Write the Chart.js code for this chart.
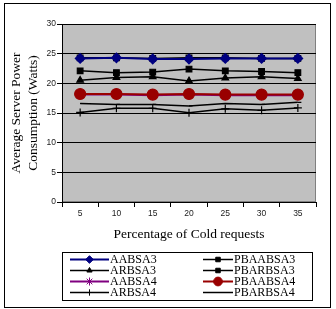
<!DOCTYPE html>
<html>
<head>
<meta charset="utf-8">
<script src="https://cdn.jsdelivr.net/npm/chart.js@4.4.1/dist/chart.umd.min.js"></script>
<style>
  html, body { margin: 0; padding: 0; background: #fff; }
  #wrap { width: 336px; height: 309px; }
</style>
</head>
<body>
<div id="wrap"><canvas id="c" width="336" height="309"></canvas></div>
<script>
// values
const coldPct = ['5', '10', '15', '20', '25', '30', '35'];
const aabsa3 = [24.2, 24.3, 24.1, 24.1, 24.2, 24.2, 24.2];
const pbaabsa3 = [24.3, 24.3, 24.2, 24.3, 24.3, 24.2, 24.2];
const arbsa3 = [20.5, 21.0, 21.1, 20.4, 20.9, 21.1, 20.8];
const pbarbsa3 = [22.1, 21.8, 21.9, 22.4, 22.1, 22.0, 21.8];
const aabsa4 = [18.1, 18.1, 18.0, 18.1, 18.0, 18.0, 18.0];
const pbaabsa4 = [18.2, 18.2, 18.1, 18.2, 18.1, 18.1, 18.1];
const arbsa4 = [15.1, 15.8, 15.8, 15.05, 15.7, 15.45, 15.85];
const pbarbsa4 = [16.6, 16.45, 16.45, 16.2, 16.6, 16.45, 16.8];
const yTicks = [0, 5, 10, 15, 20, 25, 30];

const legendOrder = ['AABSA3', 'PBAABSA3', 'ARBSA3', 'PBARBSA3', 'AABSA4', 'PBAABSA4', 'ARBSA4', 'PBARBSA4'];

function series(label, data, color, width, style, radius, order) {
  return {
    label: label, data: data,
    borderColor: color, backgroundColor: color,
    borderWidth: width, tension: 0,
    pointStyle: style, pointRadius: radius, pointHoverRadius: radius,
    pointBorderWidth: 1.2, pointBorderColor: color, pointBackgroundColor: color,
    order: order
  };
}

const datasets = [
  series('PBAABSA3', pbaabsa3, '#000000', 1.5, 'rect', 4, 1),
  series('AABSA3', aabsa3, '#000080', 2, 'rectRot', 4.8, 0),
  series('ARBSA3', arbsa3, '#000000', 1.5, 'triangle', 3.8, 2),
  series('PBARBSA3', pbarbsa3, '#000000', 1.5, 'rect', 4, 3),
  series('AABSA4', aabsa4, '#800080', 2, 'star', 5, 5),
  series('PBAABSA4', pbaabsa4, '#990000', 2, 'circle', 5.5, 4),
  series('ARBSA4', arbsa4, '#000000', 1.5, 'cross', 4, 6),
  series('PBARBSA4', pbarbsa4, '#000000', 1.5, 'dash', 3.5, 7)
];

const frame = {
  id: 'frame',
  beforeDraw(chart) {
    const ctx = chart.ctx, a = chart.chartArea;
    ctx.save();
    ctx.fillStyle = '#c0c0c0';
    ctx.fillRect(a.left, a.top, a.right - a.left, a.bottom - a.top);
    ctx.strokeStyle = '#808080';
    ctx.lineWidth = 1;
    ctx.strokeRect(a.left + 0.5, a.top + 0.5, a.right - a.left - 1, a.bottom - a.top - 1);
    ctx.strokeStyle = '#000';
    ctx.strokeRect(4.5, 3.5, 326, 304);
    ctx.restore();
  },
  afterDraw(chart) {
    const ctx = chart.ctx;
    ctx.save();
    ctx.strokeStyle = '#000';
    ctx.lineWidth = 1;
    ctx.strokeRect(62.5, 252.5, 250, 48);
    ctx.font = '12px "Liberation Serif", "Times New Roman", serif';
    ctx.textBaseline = 'middle';
    ctx.textAlign = 'left';
    legendOrder.forEach((name, i) => {
      const ds = chart.data.datasets.find(d => d.label === name);
      const col = i % 2, row = Math.floor(i / 2);
      const x0 = col ? 203 : 70, x1 = col ? 233 : 109;
      const y = 259.5 + row * 11;
      ctx.strokeStyle = ds.borderColor;
      ctx.fillStyle = ds.borderColor;
      ctx.lineWidth = ds.borderWidth;
      ctx.beginPath();
      ctx.moveTo(x0, y);
      ctx.lineTo(x1, y);
      ctx.stroke();
      ctx.lineWidth = 1;
      Chart.helpers.drawPoint(ctx, {
        pointStyle: ds.pointStyle, rotation: 0,
        radius: ds.pointRadius * 0.8, borderWidth: 1
      }, (x0 + x1) / 2, y);
      ctx.fillStyle = '#000';
      ctx.fillText(name, x1 + 1, y + 0.5);
    });
    ctx.restore();
  }
};

new Chart(document.getElementById('c'), {
  type: 'line',
  data: { labels: coldPct, datasets: datasets },
  options: {
    responsive: false,
    animation: false,
    devicePixelRatio: 1,
    layout: { padding: { left: 0, top: 24, right: 20, bottom: 66 } },
    plugins: { legend: { display: false }, tooltip: { enabled: false } },
    scales: {
      x: {
        offset: true,
        grid: { offset: true, drawOnChartArea: false, color: '#000', tickLength: 5 },
        border: { display: true, color: '#000', width: 1 },
        ticks: { color: '#222', padding: 2, font: { family: '"Liberation Sans", Arial, sans-serif', size: 8.5 } },
        title: {
          display: true, text: 'Percentage of Cold requests', color: '#000', padding: 0,
          font: { family: '"Liberation Serif", "Times New Roman", serif', size: 13.5, lineHeight: 1.2 }
        },
        afterFit(scale) { scale.height = 41; }
      },
      y: {
        min: 0, max: 30,
        afterBuildTicks(scale) { scale.ticks = yTicks.map(v => ({ value: v })); },
        grid: { color: '#000', tickLength: 5 },
        border: { display: true, color: '#000', width: 1 },
        ticks: { color: '#222', padding: 1, font: { family: '"Liberation Sans", Arial, sans-serif', size: 8.5 } },
        title: {
          display: true, text: ['Average Server Power', 'Consumption (Watts)'], color: '#000',
          padding: { top: 7.5, bottom: 0 },
          font: { family: '"Liberation Serif", "Times New Roman", serif', size: 13.5, lineHeight: 1.26 }
        },
        afterFit(scale) { scale.width = 62; }
      }
    }
  },
  plugins: [frame]
});
</script>
</body>
</html>
